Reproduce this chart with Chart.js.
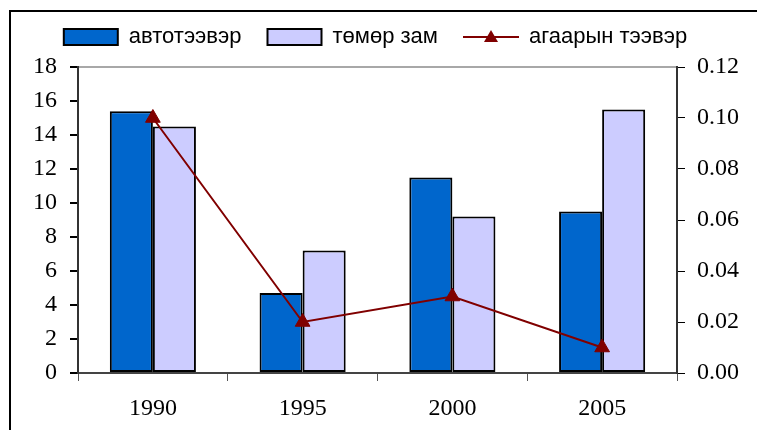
<!DOCTYPE html>
<html>
<head>
<meta charset="utf-8">
<script src="https://cdn.jsdelivr.net/npm/chart.js@4"></script>
<style>
  html, body { margin: 0; padding: 0; background: #fff; }
  #wrap { width: 757px; height: 430px; position: relative; }
</style>
</head>
<body>
<div id="wrap"><canvas id="chart"></canvas></div>
<script>
// data
const years = ["1990", "1995", "2000", "2005"];
const autoValues = [15.4, 4.7, 11.5, 9.5];   // автотээвэр
const railValues = [14.5, 7.2, 9.2, 15.5];   // төмөр зам
const airValues = [0.10, 0.02, 0.03, 0.01];  // агаарын тээвэр
const seriesNames = ["автотээвэр", "төмөр зам", "агаарын тээвэр"];

const blue = "#0066CC";
const lavender = "#CCCCFF";
const darkRed = "#800000";

// legend symbol for the line series: short line with a triangle
const lineSymbol = document.createElement("canvas");
lineSymbol.width = 56;
lineSymbol.height = 18;
(() => {
  const c = lineSymbol.getContext("2d");
  c.strokeStyle = darkRed;
  c.lineWidth = 2;
  c.beginPath();
  c.moveTo(0, 9);
  c.lineTo(56, 9);
  c.stroke();
  c.fillStyle = darkRed;
  c.beginPath();
  c.moveTo(28, 2);
  c.lineTo(35, 14);
  c.lineTo(21, 14);
  c.closePath();
  c.fill();
})();

// white page + outer frame (right and bottom edges run off the picture)
const frame = {
  id: "frame",
  beforeDraw(chart) {
    const c = chart.ctx;
    c.save();
    c.fillStyle = "#fff";
    c.fillRect(0, 0, chart.width, chart.height);
    c.strokeStyle = "#000";
    c.lineWidth = 2;
    c.strokeRect(10, 11, 900, 600);
    c.restore();
  }
};

// extra room between legend and plot
const legendGap = {
  id: "legendGap",
  beforeLayout(chart) {
    const lg = chart.legend;
    if (lg && !lg._gapPatched) {
      const fit = lg.fit;
      lg.fit = function () {
        fit.call(this);
        this.height += 9;
      };
      lg._gapPatched = true;
    }
  }
};

const serif = "'Liberation Serif', 'Times New Roman', serif";

new Chart(document.getElementById("chart"), {
  type: "bar",
  plugins: [frame, legendGap],
  data: {
    labels: years,
    datasets: [
      {
        label: seriesNames[0],
        data: autoValues,
        backgroundColor: blue,
        borderColor: "#000",
        borderWidth: 2,
        borderSkipped: false,
        yAxisID: "y",
        order: 1
      },
      {
        label: seriesNames[1],
        data: railValues,
        backgroundColor: lavender,
        borderColor: "#000",
        borderWidth: 2,
        borderSkipped: false,
        yAxisID: "y",
        order: 1
      },
      {
        type: "line",
        label: seriesNames[2],
        data: airValues,
        borderColor: darkRed,
        backgroundColor: darkRed,
        borderWidth: 2,
        pointStyle: "triangle",
        pointRadius: 8.5,
        pointBackgroundColor: darkRed,
        pointBorderColor: darkRed,
        pointBorderWidth: 1,
        yAxisID: "y1",
        order: 0
      }
    ]
  },
  options: {
    responsive: true,
    maintainAspectRatio: false,
    animation: false,
    categoryPercentage: 0.575,
    barPercentage: 1,
    layout: { padding: { top: 0, left: 0, right: 6, bottom: 0 } },
    plugins: {
      tooltip: { enabled: false },
      legend: {
        position: "top",
        labels: {
          font: { family: "'Liberation Sans', Arial, sans-serif", size: 22 },
          color: "#000",
          padding: 26,
          usePointStyle: true,
          pointStyleWidth: 54,
          boxHeight: 16,
          sort: (a, b) => a.datasetIndex - b.datasetIndex,
          generateLabels(chart) {
            const items = Chart.defaults.plugins.legend.labels.generateLabels(chart);
            items.forEach((it) => {
              if (it.datasetIndex === 2) {
                it.pointStyle = lineSymbol;
              } else {
                it.pointStyle = "rect";
                it.lineWidth = 2;
                it.strokeStyle = "#000";
              }
            });
            return items;
          }
        }
      }
    },
    scales: {
      x: {
        offset: true,
        grid: {
          offset: true,
          drawOnChartArea: false,
          drawTicks: true,
          tickLength: 8,
          color: "#555"
        },
        border: { display: true, color: "#444", width: 2 },
        ticks: {
          font: { family: serif, size: 24 },
          color: "#000",
          padding: 13
        },
        afterFit(scale) { scale.height = 57; }
      },
      y: {
        position: "left",
        min: 0,
        max: 18,
        ticks: {
          stepSize: 2,
          font: { family: serif, size: 24 },
          color: "#000",
          padding: 13
        },
        grid: {
          color: (ctx) => (ctx.tick && ctx.tick.value === 18 ? "#a8a8a8" : "rgba(0,0,0,0)"),
          lineWidth: 2,
          tickColor: "#000",
          tickLength: 8
        },
        border: { display: true, color: "#333", width: 2 },
        afterFit(scale) { scale.width = 78; }
      },
      y1: {
        position: "right",
        min: 0,
        max: 0.12,
        ticks: {
          stepSize: 0.02,
          font: { family: serif, size: 24 },
          color: "#000",
          padding: 12,
          callback: (v) => Number(v).toFixed(2)
        },
        grid: {
          drawOnChartArea: false,
          tickColor: "#000",
          tickLength: 8
        },
        border: { display: true, color: "#333", width: 2 },
        afterFit(scale) { scale.width = 74; }
      }
    }
  }
});
</script>
</body>
</html>
